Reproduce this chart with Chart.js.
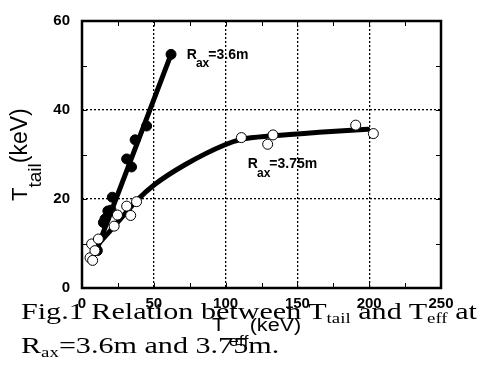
<!DOCTYPE html>
<html>
<head>
<meta charset="utf-8">
<script src="https://cdn.jsdelivr.net/npm/chart.js@4.4.1/dist/chart.umd.min.js"></script>
<style>
  html, body { margin: 0; padding: 0; background: #fff; }
  #wrap { position: relative; width: 482px; height: 365px; overflow: hidden; }
  #chart { position: absolute; left: 0; top: 0; }
  .cap {
    position: absolute; left: 21px; white-space: nowrap;
    font-family: "Liberation Serif", "Times New Roman", serif;
    font-size: 24px; line-height: 34px; color: #000;
    transform: scaleX(1.255); transform-origin: 0 0;
  }
  .cap .sb { font-size: 15px; position: relative; top: 4px; }
</style>
</head>
<body>
<div id="wrap">
  <canvas id="chart" width="482" height="365"></canvas>
  <div class="cap" style="top:294px">Fig.1 Relation between T<span class="sb">tail</span> and T<span class="sb">eff</span> at</div>
  <div class="cap" style="top:328px">R<span class="sb">ax</span>=3.6m and 3.75m.</div>
</div>
<script>
    "use strict";

    // Rax = 3.6m, filled circles
    const fill36X = [9.7, 10.7, 14.9, 16, 18, 20.2, 21.1, 31.1, 34.5, 37, 45, 62];
    const fill36Y = [9.0, 8.4, 14.7, 15.5, 17.3, 17.5, 20.4, 29, 27.2, 33.3, 36.4, 52.5];
    // fitted straight line for 3.6m
    const line36X = [9.5, 62];
    const line36Y = [8, 52.5];

    // Rax = 3.75m, open circles
    const open375X = [5.6, 7.4, 6.7, 9, 11.4, 22.4, 24.7, 31.1, 33.9, 38, 111, 133, 129.3, 190.6, 202.9];
    const open375Y = [6.8, 6.2, 9.9, 8.4, 11, 13.9, 16.4, 18.4, 16.3, 19.4, 33.8, 34.4, 32.3, 36.6, 34.7];
    // fitted curve for 3.75m
    const curve375X = [8, 11.4, 20, 30, 38, 50.8, 71.7, 99.6, 111, 133, 165, 199];
    const curve375Y = [8.3, 9.8, 13.0, 16.7, 19.6, 23.3, 27.7, 32.2, 33.4, 34.2, 35.0, 35.7];

    const xTickValues = [0, 50, 100, 150, 200, 250];
    const yTickValues = [0, 20, 40, 60];
    const xMinorTicks = [25, 75, 125, 175, 225];
    const yMinorTicks = [10, 30, 50];

    function pts(xs, ys) {
        return xs.map((x, i) => ({ x: x, y: ys[i] }));
    }

    const SANS = "Liberation Sans, Arial, sans-serif";
    const tickFont = { family: SANS, size: 15, weight: "bold" };

    // frame, inside ticks, axis titles and series labels
    const decorPlugin = {
        id: "decor",
        afterDraw(chart) {
            const ctx = chart.ctx;
            const a = chart.chartArea;
            const xs = chart.scales.x;
            const ys = chart.scales.y;
            ctx.save();
            ctx.strokeStyle = "#000";
            ctx.lineWidth = 1;
            ctx.setLineDash([]);
            const tl = 5;
            ctx.beginPath();
            xMinorTicks.concat(xTickValues).forEach(v => {
                const px = Math.round(xs.getPixelForValue(v)) + 0.5;
                ctx.moveTo(px, a.bottom); ctx.lineTo(px, a.bottom - tl);
                ctx.moveTo(px, a.top); ctx.lineTo(px, a.top + tl);
            });
            yMinorTicks.concat(yTickValues).forEach(v => {
                const py = Math.round(ys.getPixelForValue(v)) + 0.5;
                ctx.moveTo(a.left, py); ctx.lineTo(a.left + tl, py);
                ctx.moveTo(a.right, py); ctx.lineTo(a.right - tl, py);
            });
            ctx.stroke();
            ctx.lineWidth = 2.5;
            ctx.strokeRect(a.left, a.top, a.right - a.left, a.bottom - a.top);

            ctx.fillStyle = "#000";
            ctx.textBaseline = "middle";
            ctx.textAlign = "left";

            // series labels
            function rlabel(xv, yv, rest) {
                let px = xs.getPixelForValue(xv);
                const py = ys.getPixelForValue(yv);
                ctx.font = "bold 14px " + SANS;
                ctx.fillText("R", px, py);
                px += ctx.measureText("R").width - 1;
                ctx.font = "bold 12px " + SANS;
                ctx.fillText("ax", px, py + 9);
                px += ctx.measureText("ax").width - 1;
                ctx.font = "bold 14px " + SANS;
                ctx.fillText(rest, px, py);
            }
            rlabel(73, 52.4, "=3.6m");
            rlabel(115.5, 27.8, "=3.75m");

            // x title (slightly stretched like the original)
            ctx.save();
            ctx.translate(212, 326);
            ctx.scale(1.2, 1);
            ctx.font = "18px " + SANS;
            ctx.fillText("T", 0, 0);
            const wT = ctx.measureText("T").width;
            ctx.font = "15px " + SANS;
            ctx.fillText("eff", wT + 3, 16);
            const wE = ctx.measureText("eff").width;
            ctx.font = "18px " + SANS;
            ctx.fillText("(keV)", wT + wE + 4, 0);
            ctx.restore();

            // y title
            ctx.translate(21, 201);
            ctx.rotate(-Math.PI / 2);
            ctx.font = "22px " + SANS;
            ctx.fillText("T", 0, 0);
            const wTy = ctx.measureText("T").width;
            ctx.font = "19px " + SANS;
            ctx.fillText("tail", wTy, 15);
            const wTail = ctx.measureText("tail").width;
            ctx.font = "23px " + SANS;
            ctx.fillText("(keV)", wTy + wTail, 0);
            ctx.restore();
        }
    };

    const ctx = document.getElementById("chart").getContext("2d");
    const chart = new Chart(ctx, {
        type: "scatter",
        data: {
            datasets: [
                {
                    label: "Rax=3.75m",
                    data: pts(open375X, open375Y),
                    showLine: false,
                    pointRadius: 5,
                    pointBackgroundColor: "#fff",
                    pointBorderColor: "#000",
                    pointBorderWidth: 1
                },
                {
                    label: "Rax=3.6m",
                    data: pts(fill36X, fill36Y),
                    showLine: false,
                    pointRadius: 5,
                    pointBackgroundColor: "#000",
                    pointBorderColor: "#000",
                    pointBorderWidth: 1
                },
                {
                    label: "fit 3.75m",
                    data: pts(curve375X, curve375Y),
                    showLine: true,
                    borderColor: "#000",
                    borderWidth: 5,
                    borderCapStyle: "round",
                    cubicInterpolationMode: "monotone",
                    pointRadius: 0
                },
                {
                    label: "fit 3.6m",
                    data: pts(line36X, line36Y),
                    showLine: true,
                    borderColor: "#000",
                    borderWidth: 5,
                    borderCapStyle: "round",
                    pointRadius: 0
                }
            ]
        },
        options: {
            responsive: false,
            animation: false,
            events: [],
            layout: { padding: { top: 18, right: 41, left: 0, bottom: 0 } },
            plugins: {
                legend: { display: false },
                tooltip: { enabled: false }
            },
            scales: {
                x: {
                    type: "linear",
                    min: 0,
                    max: 250,
                    afterFit: s => { s.height = 77; },
                    afterBuildTicks: s => { s.ticks = xTickValues.map(v => ({ value: v })); },
                    ticks: { font: tickFont, color: "#000", padding: 7, maxRotation: 0 },
                    grid: {
                        drawTicks: false,
                        lineWidth: 1.3,
                        color: c => (c.tick && (c.tick.value === 0 || c.tick.value === 250)) ? "rgba(0,0,0,0)" : "#000"
                    },
                    border: { display: false, dash: [2, 2] }
                },
                y: {
                    type: "linear",
                    min: 0,
                    max: 60,
                    afterFit: s => { s.width = 82; },
                    afterBuildTicks: s => { s.ticks = yTickValues.map(v => ({ value: v })); },
                    ticks: { font: tickFont, color: "#000", padding: 12 },
                    grid: {
                        drawTicks: false,
                        lineWidth: 1.3,
                        color: c => (c.tick && (c.tick.value === 0 || c.tick.value === 60)) ? "rgba(0,0,0,0)" : "#000"
                    },
                    border: { display: false, dash: [2, 2] }
                }
            }
        },
        plugins: [decorPlugin]
    });
</script>
</body>
</html>
